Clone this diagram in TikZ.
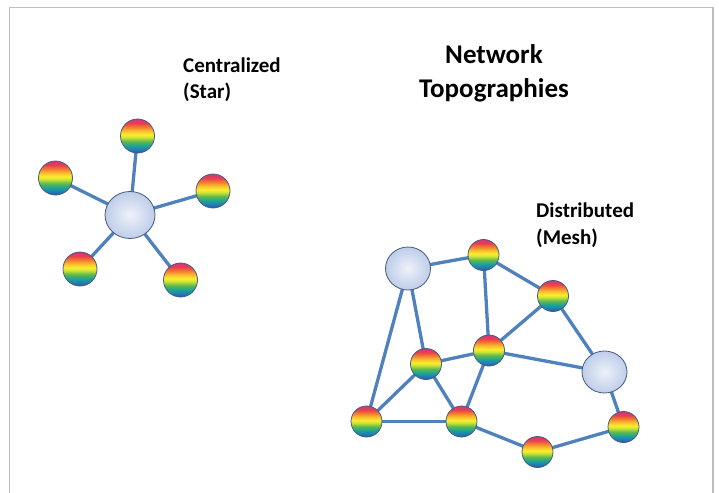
\documentclass[tikz,border=0pt]{standalone}
\usepackage{fontspec}
\setmainfont{Carlito}
\usetikzlibrary{backgrounds,shapes.geometric}
\definecolor{edgeblue}{RGB}{79,129,189}
\definecolor{rimcol}{RGB}{70,90,130}
\definecolor{hubA}{RGB}{238,242,250}
\definecolor{hubB}{RGB}{190,205,232}
\definecolor{framegray}{RGB}{190,190,190}
\definecolor{rb1}{RGB}{45,85,170}
\definecolor{rb2}{RGB}{30,125,185}
\definecolor{rb3}{RGB}{30,165,145}
\definecolor{rb4}{RGB}{95,185,75}
\definecolor{rb5}{RGB}{205,228,55}
\definecolor{rb6}{RGB}{252,238,45}
\definecolor{rb7}{RGB}{250,185,45}
\definecolor{rb8}{RGB}{242,115,50}
\definecolor{rb9}{RGB}{232,62,78}
\definecolor{rb10}{RGB}{212,52,128}
\pgfdeclareverticalshading{rainbow}{100bp}{%
 color(0bp)=(rb1); color(25bp)=(rb1); color(30bp)=(rb2); color(36bp)=(rb3);
 color(42bp)=(rb4); color(48bp)=(rb5); color(52bp)=(rb6); color(58bp)=(rb7);
 color(64bp)=(rb8); color(69bp)=(rb9); color(75bp)=(rb10); color(100bp)=(rb10)}
\tikzset{
 leaf/.style={circle,draw=rimcol,line width=0.8pt,shading=rainbow,minimum size=#1,inner sep=0pt},
 leaf/.default=34pt,
 hub/.style={ellipse,draw=rimcol,line width=0.8pt,inner color=hubA,outer color=hubB,inner sep=0pt},
 link/.style={draw=edgeblue,line width=3.3pt},
 lbl/.style={font=\bfseries\fontsize{21}{24}\selectfont,anchor=base west,inner sep=0pt},
 ttl/.style={font=\bfseries\fontsize{27}{31}\selectfont,anchor=base,inner sep=0pt}
}
\begin{document}
\begin{tikzpicture}[x=1pt,y=-1pt]
\useasboundingbox (0,0) rectangle (719,492);
\draw[framegray,line width=1.5pt] (9.5,493) -- (9.5,7.5) -- (713,7.5) -- (713,493);
% texts
\node[lbl] (tstar1) at (183,73) {Centralized};
\node[lbl] (tstar2) at (183,99) {(Star)};
\node[ttl] (title1) at (494,64) {Network};
\node[ttl] (title2) at (494,98) {Topographies};
\node[lbl] (tmesh1) at (536,217) {Distributed};
\node[lbl] (tmesh2) at (536,244) {(Mesh)};
% star
\node[hub,minimum width=50pt,minimum height=47pt] (hub) at (130,215) {};
\node[leaf] (s1) at (137.5,136) {};
\node[leaf] (s2) at (55.5,178) {};
\node[leaf] (s3) at (213,191) {};
\node[leaf] (s4) at (80,269) {};
\node[leaf] (s5) at (180.5,280) {};
% mesh
\node[hub,minimum width=45pt,minimum height=43pt] (A) at (408,268.5) {};
\node[hub,minimum width=45pt,minimum height=42pt] (B) at (604.5,372) {};
\node[leaf=31pt] (n1) at (483.5,255) {};
\node[leaf=31pt] (n2) at (553,296) {};
\node[leaf=31pt] (n3) at (489,350.5) {};
\node[leaf=31pt] (n4) at (426,364) {};
\node[leaf=31pt] (n5) at (366.5,421.5) {};
\node[leaf=31pt] (n6) at (461.5,421.5) {};
\node[leaf=31pt] (n7) at (537.5,452) {};
\node[leaf=31pt] (n8) at (623.5,427) {};
\begin{scope}[on background layer]
\foreach \s in {s1,s2,s3,s4,s5}{\path[link] (hub.center) -- (\s.center);}
\path[link] (A.center) -- (n1.center);
\path[link] (A.center) -- (n5.center);
\path[link] (A.center) -- (n4.center);
\path[link] (n1.center) -- (n2.center);
\path[link] (n1.center) -- (n3.center);
\path[link] (n2.center) -- (n3.center);
\path[link] (n2.center) -- (B.center);
\path[link] (n3.center) -- (B.center);
\path[link] (n3.center) -- (n4.center);
\path[link] (n3.center) -- (n6.center);
\path[link] (n4.center) -- (n5.center);
\path[link] (n4.center) -- (n6.center);
\path[link] (n5.center) -- (n6.center);
\path[link] (n6.center) -- (n7.center);
\path[link] (n7.center) -- (n8.center);
\path[link] (B.center) -- (n8.center);
\end{scope}
\end{tikzpicture}
\end{document}
